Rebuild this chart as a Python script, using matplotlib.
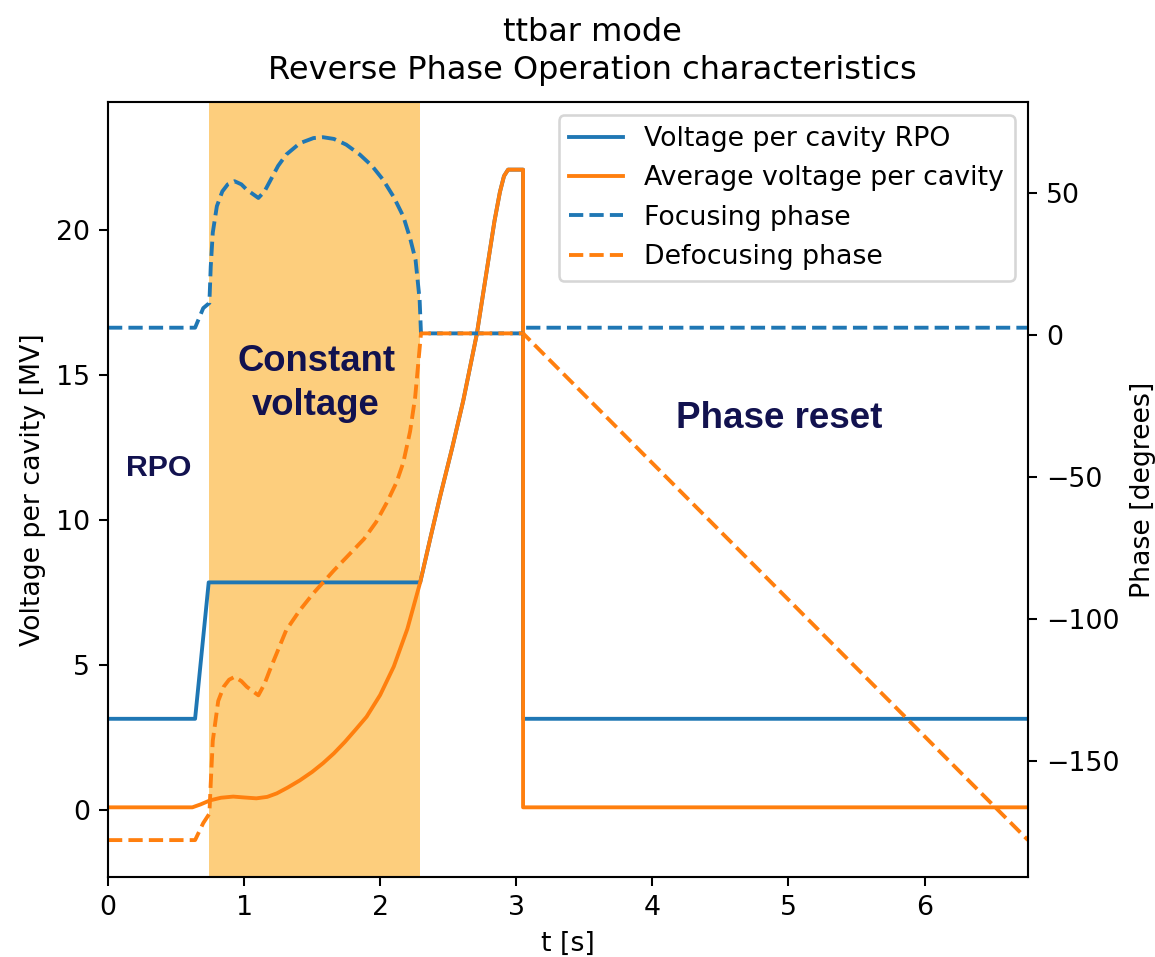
import matplotlib.pyplot as plt

plt.rcParams["font.size"] = 10.4

# average voltage per cavity [MV] vs time [s]
t_avg = [0, 0.62, 0.68, 0.75, 0.83, 0.92, 1.0, 1.09, 1.17, 1.24, 1.32, 1.41,
         1.5, 1.58, 1.66, 1.74, 1.82, 1.90, 2.0, 2.1, 2.2, 2.294,
         2.37, 2.44, 2.53, 2.61, 2.71, 2.79, 2.84, 2.88, 2.91, 2.94, 3.05,
         3.05, 6.76]
v_avg = [0.1, 0.1, 0.2, 0.34, 0.43, 0.47, 0.44, 0.41, 0.46, 0.58, 0.78, 1.03,
         1.32, 1.62, 1.96, 2.35, 2.78, 3.22, 3.97, 4.95, 6.25, 7.85,
         9.4, 10.8, 12.5, 14.1, 16.4, 18.8, 20.3, 21.3, 21.85, 22.07, 22.07,
         0.1, 0.1]

# voltage per cavity in RPO (follows the average during the ramp)
t_rpo = [0, 0.64, 0.74, 2.294, 2.37, 2.44, 2.53, 2.61, 2.71, 2.79, 2.84,
         2.88, 2.91, 2.94, 3.05, 3.05, 6.76]
v_rpo = [3.15, 3.15, 7.85, 7.85, 9.4, 10.8, 12.5, 14.1, 16.4, 18.8, 20.3,
         21.3, 21.85, 22.07, 22.07, 3.15, 3.15]

# focusing / defocusing phase [degrees]
t_foc = [0, 0.64, 0.70, 0.745, 0.755, 0.77, 0.80, 0.84, 0.88, 0.93, 0.98,
         1.02, 1.105, 1.15, 1.19, 1.25, 1.31, 1.41, 1.51, 1.58, 1.66, 1.75,
         1.85, 1.94, 2.02, 2.10, 2.17, 2.22, 2.26, 2.29, 2.30, 3.05, 3.06,
         6.76]
ph_foc = [2.5, 2.5, 9.4, 11.2, 24, 36, 45.3, 50.5, 53, 54.1, 53, 51.1,
          48.2, 50.5, 54.1, 59.5, 63.5, 67.5, 69.3, 69.6, 69.0, 67, 63.5,
          59.5, 54.7, 48.5, 41.7, 34, 26.4, 12.3, 0.5, 0.5, 2.5, 2.5]

t_def = [0, 0.64, 0.70, 0.745, 0.755, 0.77, 0.81, 0.85, 0.89, 0.93, 0.98,
         1.02, 1.105, 1.15, 1.19, 1.31, 1.41, 1.51, 1.66, 1.78, 1.88, 1.97,
         2.05, 2.12, 2.17, 2.22, 2.257, 2.28, 2.30, 3.05, 6.76]
ph_def = [-178, -178, -172, -168.7, -158, -143, -129, -124, -121.5, -120.5,
          -122, -124, -127, -123, -118, -104, -97, -91, -83, -77, -72, -66,
          -59, -52, -45, -34, -22, -10, 0.5, 0.5, -178]

# constant voltage window
cv_start, cv_end = 0.74, 2.29

navy = "#12124f"

fig, ax = plt.subplots(figsize=(1155 / 185, 957 / 185), dpi=185)
fig.subplots_adjust(left=0.0935, right=0.890, top=0.8934, bottom=0.0836)

ax.axvspan(cv_start, cv_end, color="#fdce7d", lw=0)
l1, = ax.plot(t_rpo, v_rpo, color="tab:blue", label="Voltage per cavity RPO")
l2, = ax.plot(t_avg, v_avg, color="tab:orange",
              label="Average voltage per cavity")
ax.set_xlim(0, 6.76)
ax.set_ylim(-2.3, 24.4)
ax.set_xlabel("t [s]")
ax.set_ylabel("Voltage per cavity [MV]")

ax2 = ax.twinx()
l3, = ax2.plot(t_foc, ph_foc, "--", color="tab:blue", label="Focusing phase")
l4, = ax2.plot(t_def, ph_def, "--", color="tab:orange",
               label="Defocusing phase")
ax2.set_ylim(-191, 82)
ax2.set_ylabel("Phase [degrees]")

ax2.legend(handles=[l1, l2, l3, l4], loc="upper right")

ax.set_title("ttbar mode\nReverse Phase Operation characteristics", x=0.527,
             linespacing=1.3, pad=9)

# region labels
kw = dict(family="Liberation Sans", weight="bold", color=navy,
          ha="center", va="center", transform=ax.transData, zorder=10)
ax2.text(0.375, 11.8, "RPO", fontsize=11.8, **kw)
ax2.text(1.53, 14.7, "Constant\nvoltage", fontsize=14.2, linespacing=1.35, **kw)
ax2.text(4.93, 13.5, "Phase reset", fontsize=14.3, **kw)

fig.savefig("out.png", dpi=185)
